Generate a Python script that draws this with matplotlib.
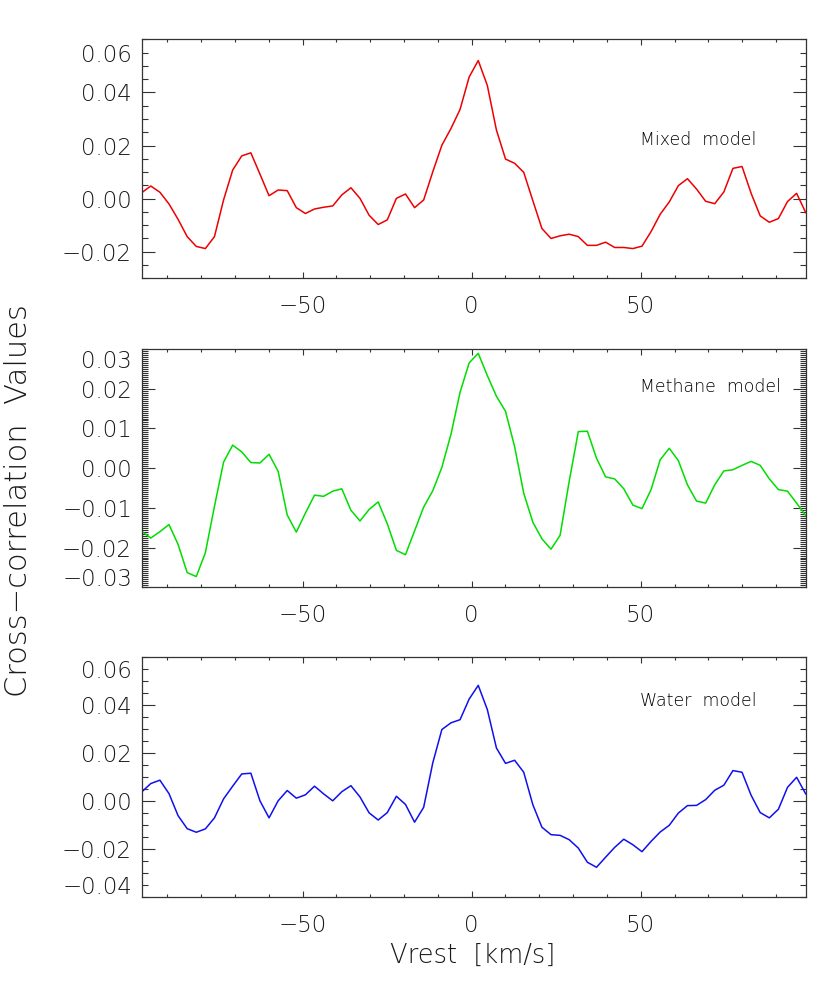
import numpy as np
import matplotlib
matplotlib.use("Agg")
import matplotlib.pyplot as plt
from matplotlib import font_manager as fm
from matplotlib.ticker import FixedLocator, FixedFormatter, MultipleLocator

# ---------------- data ----------------
v_start, v_end, n_pts = -97.6, 98.8, 74   # velocity grid [km/s]

mixed = [0.00225, 0.00475, 0.0024, -0.002, -0.0078, -0.0143, -0.018, -0.0188,
         -0.0143, -0.0005, 0.01075, 0.0161, 0.01725, 0.00925, 0.0011, 0.00325,
         0.003, -0.0034, -0.0056, -0.0039, -0.00325, -0.00275, 0.0014, 0.0041,
         0.0001, -0.00625, -0.00975, -0.008, 0.0001, 0.00175, -0.0034, -0.0005,
         0.0101, 0.0201, 0.0264, 0.0336, 0.0458, 0.052, 0.0426, 0.0258,
         0.0149, 0.0133, 0.0099, -0.00075, -0.01125, -0.015, -0.014, -0.0134,
         -0.0143, -0.0176, -0.0176, -0.0164, -0.0184, -0.0184, -0.0188, -0.0179,
         -0.0124, -0.0059, -0.00125, 0.0049, 0.0075, 0.0036, -0.001, -0.0019,
         0.0025, 0.0114, 0.0121, 0.002, -0.0065, -0.0089, -0.0075, -0.0011,
         0.002, -0.00525]

methane = [-0.0159, -0.0176, -0.016, -0.0142, -0.0192, -0.0263, -0.0273, -0.0213,
           -0.0096, 0.0015, 0.0058, 0.0041, 0.0014, 0.0013, 0.0035, -0.0008,
           -0.0118, -0.0161, -0.0113, -0.0068, -0.0071, -0.0058, -0.0052, -0.0106,
           -0.0133, -0.0104, -0.0085, -0.014, -0.0207, -0.0218, -0.0158, -0.0098,
           -0.0057, 0.0002, 0.0085, 0.0191, 0.0265, 0.0289, 0.0233, 0.0181,
           0.0143, 0.0054, -0.0063, -0.0136, -0.0178, -0.0204, -0.0169, -0.0033,
           0.0092, 0.0093, 0.0025, -0.0022, -0.0027, -0.0052, -0.0093, -0.0102,
           -0.0054, 0.0021, 0.005, 0.0019, -0.0042, -0.0083, -0.0088, -0.0042,
           -0.0007, -0.0004, 0.0007, 0.0017, 0.0007, -0.0027, -0.0054, -0.0058,
           -0.0088, -0.0119]

water = [0.0039, 0.0074, 0.0088, 0.0032, -0.006, -0.0114, -0.0129, -0.0115,
         -0.0069, 0.001, 0.0063, 0.0114, 0.0117, 0.0002, -0.0069, 0.0002,
         0.0045, 0.0013, 0.0027, 0.0063, 0.0031, 0.0002, 0.004, 0.0065,
         0.0018, -0.0048, -0.0078, -0.0047, 0.0021, -0.0013, -0.0087, -0.0025,
         0.016, 0.0299, 0.0327, 0.034, 0.0426, 0.0483, 0.0382, 0.0222,
         0.0158, 0.0171, 0.0121, -0.0014, -0.0108, -0.0139, -0.0142, -0.016,
         -0.0195, -0.0254, -0.0275, -0.0233, -0.0192, -0.0158, -0.0181, -0.021,
         -0.0167, -0.0128, -0.01, -0.0049, -0.0018, -0.0017, 0.0007, 0.0046,
         0.0067, 0.0128, 0.0121, 0.0025, -0.0047, -0.0069, -0.0033, 0.0058,
         0.01, 0.0031]

labels = ["Mixed  model", "Methane  model", "Water  model"]
x_major = [-50, 0, 50]
x_labels = ["\u221250", "0", "50"]
xlabel = "Vrest  [km/s]"
ylabel = "Cross\u2212correlation  Values"

# y-axis settings per panel
y_lims = [(-0.03, 0.06), (-0.03, 0.03), (-0.04, 0.06)]
y_major = [[-0.02, 0.0, 0.02, 0.04, 0.055],
           [-0.0275, -0.02, -0.01, 0.0, 0.01, 0.02, 0.0275],
           [-0.035, -0.02, 0.0, 0.02, 0.04, 0.055]]
y_labels = [["\u22120.02", "0.00", "0.02", "0.04", "0.06"],
            ["\u22120.03", "\u22120.02", "\u22120.01", "0.00", "0.01", "0.02", "0.03"],
            ["\u22120.04", "\u22120.02", "0.00", "0.02", "0.04", "0.06"]]
y_short = [[4], [0, 6], [0, 5]]          # label-only ticks drawn with minor length
y_minor = [0.005, 0.0005, 0.005]
colors = ["#ee0000", "#00dd00", "#1010ee"]

# ---------------- font choice ----------------
family = "DejaVu Sans"
weight = "normal"
avail = {(f.name, f.weight) for f in fm.fontManager.ttflist}
for fam, w in [("DejaVu Sans", 200), ("Open Sans", 300), ("Lato", 300), ("Roboto", 300)]:
    if any(n == fam and (wt == w or wt == str(w) or wt in ("light", "extra light")) for n, wt in avail):
        family, weight = fam, w
        break
plt.rcParams["font.family"] = [family, "DejaVu Sans"]
plt.rcParams["font.weight"] = weight
plt.rcParams["axes.unicode_minus"] = True

text_col = "#1a1a1a"
fig = plt.figure(figsize=(8.30, 9.97), dpi=100)

x = np.linspace(v_start, v_end, n_pts)
series = [mixed, methane, water]
tops = [39.3, 349.0, 657.3]
bottoms = [278.3, 587.3, 897.3]
W, H = 830.0, 997.0
left_px, right_px = 141.7, 805.7

for i in range(3):
    ax = fig.add_axes([left_px / W, 1 - bottoms[i] / H,
                       (right_px - left_px) / W, (bottoms[i] - tops[i]) / H])
    ax.plot(x, series[i], color=colors[i], lw=1.1)
    ax.set_xlim(v_start, v_end)
    ax.set_ylim(*y_lims[i])
    ax.xaxis.set_major_locator(FixedLocator(x_major))
    ax.xaxis.set_major_formatter(FixedFormatter(x_labels))
    ax.xaxis.set_minor_locator(MultipleLocator(10))
    ax.yaxis.set_major_locator(FixedLocator(y_major[i]))
    ax.yaxis.set_major_formatter(FixedFormatter(y_labels[i]))
    ax.yaxis.set_minor_locator(MultipleLocator(y_minor[i]))
    ax.tick_params(axis="both", which="both", direction="in", color="#333333",
                   width=0.8, labelcolor=text_col, labelsize=16.5)
    ax.tick_params(axis="x", which="major", length=4.3, top=True, bottom=True, pad=12)
    ax.tick_params(axis="x", which="minor", length=2.2, top=True, bottom=True)
    ax.tick_params(axis="y", which="major", length=9.6, left=True, right=True, pad=7)
    ax.tick_params(axis="y", which="minor", length=4.5, left=True, right=True)
    for j, t in enumerate(ax.yaxis.get_major_ticks()):
        if j in y_short[i]:
            t.tick1line.set_markersize(4.5)
            t.tick2line.set_markersize(4.5)
    for s in ax.spines.values():
        s.set_color("#333333")
        s.set_linewidth(0.9)
    ax.text(0.75, [0.58, 0.84, 0.82][i], labels[i], transform=ax.transAxes,
            fontsize=12.5, color="black", va="center", ha="left")

fig.text(19 / W, 1 - 501 / H, ylabel, rotation=90, ha="center", va="center",
         fontsize=22, color=text_col)
fig.text(473 / W, 1 - 955 / H, xlabel, ha="center", va="center",
         fontsize=18.5, color=text_col)

fig.savefig("out.png", dpi=100)
